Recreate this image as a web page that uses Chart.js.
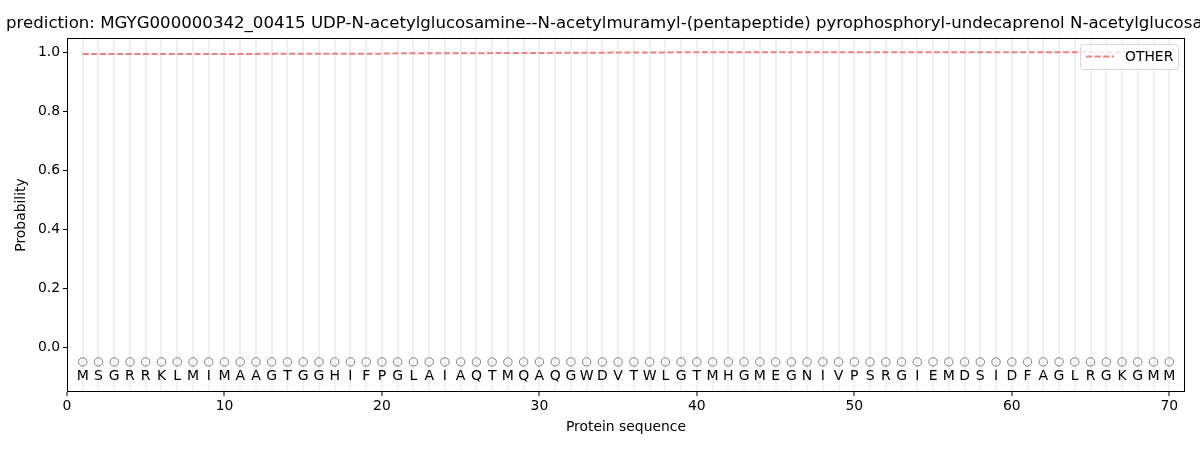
<!DOCTYPE html>
<html>
<head>
<meta charset="utf-8">
<script src="https://cdn.jsdelivr.net/npm/chart.js@4"></script>
<style>
  html, body { margin: 0; padding: 0; background: #fff; }
  #wrap { width: 1200px; height: 450px; }
</style>
</head>
<body>
<div id="wrap"><canvas id="chart" width="1200" height="450"></canvas></div>
<script>
const titleText = 'prediction: MGYG000000342_00415 UDP-N-acetylglucosamine--N-acetylmuramyl-(pentapeptide) pyrophosphoryl-undecaprenol N-acetylglucosamine transferase';

const residues = ['M','S','G','R','R','K','L','M','I','M','A','A','G','T','G','G','H','I','F','P',
                  'G','L','A','I','A','Q','T','M','Q','A','Q','G','W','D','V','T','W','L','G','T',
                  'M','H','G','M','E','G','N','I','V','P','S','R','G','I','E','M','D','S','I','D',
                  'F','A','G','L','R','G','K','G','M','M'];

const otherProb = [0.994,0.994,0.994,0.994,0.994,0.994,0.994,0.994,0.994,0.994,
                   0.994,0.994,0.995,0.995,0.995,0.995,0.995,0.995,0.995,0.995,
                   0.996,0.996,0.996,0.996,0.996,0.996,0.997,0.997,0.997,0.997,
                   0.998,0.998,0.998,0.998,0.999,0.999,0.999,0.999,1.0,1.0,
                   1.0,1.0,1.0,1.0,1.0,1.0,1.0,1.0,1.0,1.0,
                   1.0,1.0,1.0,1.0,1.0,1.0,1.0,1.0,1.0,1.0,
                   1.0,1.0,1.0,1.0,1.0,1.0,1.0,1.0,1.0,1.0];

const yTicks = [0, 0.2, 0.4, 0.6, 0.8, 1.0];
const markerLevel = -0.05;
const letterLevel = -0.1;

const font = "'DejaVu Sans', sans-serif";

const linePoints = otherProb.map((v, i) => ({ x: i + 1, y: v }));
const markerPoints = residues.map((r, i) => ({ x: i + 1, y: markerLevel }));

const extras = {
    id: 'extras',
    afterDatasetsDraw(chart) {
        const ctx = chart.ctx;
        const area = chart.chartArea;
        const xs = chart.scales.x, ys = chart.scales.y;
        ctx.save();
        // residue letters
        ctx.fillStyle = '#000';
        ctx.font = '14px ' + font;
        ctx.textAlign = 'center';
        ctx.textBaseline = 'middle';
        residues.forEach((r, i) => {
            ctx.fillText(r, xs.getPixelForValue(i + 1), ys.getPixelForValue(letterLevel));
        });
        // frame
        ctx.strokeStyle = '#000';
        ctx.lineWidth = 1;
        ctx.strokeRect(area.left + 0.5, area.top + 0.5, area.right - area.left - 1, area.bottom - area.top - 1);
        // legend
        const ds = chart.data.datasets[0];
        const bx = 1080, by = 44, bw = 98, bh = 25;
        ctx.beginPath();
        ctx.roundRect(bx + 0.5, by + 0.5, bw, bh, 3);
        ctx.fillStyle = 'rgba(255,255,255,0.8)';
        ctx.fill();
        ctx.strokeStyle = '#d6d6d6';
        ctx.stroke();
        ctx.beginPath();
        ctx.setLineDash(ds.borderDash);
        ctx.strokeStyle = ds.borderColor;
        ctx.lineWidth = ds.borderWidth;
        ctx.moveTo(bx + 6, by + 12.5);
        ctx.lineTo(bx + 34, by + 12.5);
        ctx.stroke();
        ctx.setLineDash([]);
        ctx.fillStyle = '#000';
        ctx.font = '13.9px ' + font;
        ctx.textAlign = 'left';
        ctx.fillText(ds.label, bx + 45, by + 13);
        // title
        ctx.font = '16.6px ' + font;
        ctx.textAlign = 'center';
        ctx.textBaseline = 'alphabetic';
        ctx.fillText(titleText, (area.left + area.right) / 2 + 49, 28);
        ctx.restore();
    }
};

new Chart(document.getElementById('chart'), {
    type: 'line',
    data: {
        datasets: [{
            label: 'OTHER',
            data: linePoints,
            borderColor: '#f08080',
            borderWidth: 2,
            borderDash: [6, 2.6],
            pointRadius: 0,
            fill: false
        }, {
            label: 'markers',
            data: markerPoints,
            showLine: false,
            pointStyle: 'circle',
            pointRadius: 4.2,
            pointBorderWidth: 1,
            pointBorderColor: '#808080',
            pointBackgroundColor: 'rgba(0,0,0,0)'
        }]
    },
    options: {
        responsive: false,
        animation: false,
        layout: { padding: { left: 0, right: 15, top: 38, bottom: 0 } },
        plugins: {
            legend: { display: false },
            title: { display: false },
            tooltip: { enabled: false }
        },
        scales: {
            x: {
                type: 'linear',
                min: 0,
                max: 71,
                afterFit: s => { s.height = 58; },
                ticks: {
                    stepSize: 1,
                    autoSkip: false,
                    maxRotation: 0,
                    padding: 2,
                    color: '#000',
                    font: { family: font, size: 13.9 },
                    callback: v => (v % 10 === 0 ? String(v) : '')
                },
                grid: {
                    color: c => (c.tick && (c.tick.value === 0 || c.tick.value === 71) ? 'rgba(0,0,0,0)' : '#f0f0f0'),
                    lineWidth: 2,
                    tickLength: 4,
                    tickColor: c => (c.tick && c.tick.value % 10 === 0 ? '#000' : 'rgba(0,0,0,0)'),
                    tickWidth: 1
                },
                border: { display: false },
                title: {
                    display: true,
                    text: 'Protein sequence',
                    color: '#000',
                    font: { family: font, size: 13.9 },
                    padding: { top: 0, bottom: 14 }
                }
            },
            y: {
                min: -0.152,
                max: 1.048,
                afterFit: s => { s.width = 67; },
                afterBuildTicks: s => { s.ticks = yTicks.map(v => ({ value: v })); },
                ticks: {
                    padding: 3,
                    color: '#000',
                    font: { family: font, size: 13.9 },
                    callback: v => v.toFixed(1)
                },
                grid: {
                    display: true,
                    drawOnChartArea: false,
                    tickLength: 4,
                    tickColor: '#000'
                },
                border: { display: false },
                title: {
                    display: true,
                    text: 'Probability',
                    color: '#000',
                    font: { family: font, size: 13.9 },
                    padding: { top: 13, bottom: 0 }
                }
            }
        }
    },
    plugins: [extras]
});
</script>
</body>
</html>
